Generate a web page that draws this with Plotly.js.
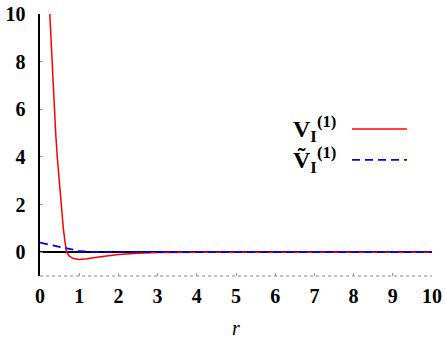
<!DOCTYPE html>
<html>
<head>
<meta charset="utf-8">
<script src="https://cdn.plot.ly/plotly-3.0.1.min.js"></script>
<style>
  html, body { margin: 0; padding: 0; background: #fff; }
  #chart { width: 445px; height: 342px; }
</style>
</head>
<body>
<div id="chart"></div>
<script>
// values
const rRed = [0.25, 0.28, 0.31, 0.34, 0.365, 0.4, 0.44, 0.49, 0.535, 0.595, 0.64, 0.68, 0.75, 0.85, 1.0, 1.2, 1.5, 2.0, 2.5, 3.0, 4.0, 10.0]
const vRed = [10, 8.9, 8.0, 6.9, 6.0, 5.0, 4.0, 3.0, 2.0, 1.0, 0.4, 0.0, -0.17, -0.27, -0.31, -0.28, -0.2, -0.1, -0.04, -0.01, 0, 0]

const rBlue = [0, 0.3, 0.66, 1.0, 1.3, 1.6, 2.0, 10.0]
const vBlue = [0.4, 0.29, 0.15, 0.05, 0.01, 0.002, 0, 0]

const xTicks = [0, 1, 2, 3, 4, 5, 6, 7, 8, 9, 10]
const yTicks = [0, 2, 4, 6, 8, 10]

const labelRed = "<b>V<sub>I</sub><sup>(1)</sup></b>"
const labelBlue = "<b>Ṽ<sub>I</sub><sup>(1)</sup></b>"
const xTitle = "<i>r</i>"

const serif = "Times New Roman"
const tickFont = { family: serif, size: 20, weight: 700, color: "#000" }

const traces = [
  {
    x: rRed, y: vRed, mode: "lines", name: labelRed,
    line: { color: "#ff0000", width: 1.5 },
  },
  {
    x: rBlue, y: vBlue, mode: "lines", name: labelBlue,
    line: { color: "#0000ff", width: 1.8, dash: "8px,5px" },
  },
]

const layout = {
  width: 445,
  height: 342,
  margin: { l: 40, r: 13, t: 14, b: 66 },
  paper_bgcolor: "#fff",
  plot_bgcolor: "#fff",
  showlegend: false,
  font: { family: serif, color: "#000" },
  xaxis: {
    range: [0, 10],
    tickvals: xTicks,
    ticktext: xTicks.map((t) => "<b>" + t + "</b>"),
    ticks: "inside", ticklen: 3, tickcolor: "#999", tickwidth: 1,
    tickfont: tickFont,
    ticklabelstandoff: 6,
    showgrid: false, zeroline: false, showline: false,
    title: { text: xTitle, font: { family: serif, size: 20, color: "#000" }, standoff: 14 },
  },
  yaxis: {
    range: [-1, 10],
    tickvals: yTicks,
    ticktext: yTicks.map((t) => "<b>" + t + "</b>"),
    ticks: "inside", ticklen: 3, tickcolor: "#999", tickwidth: 1,
    tickfont: tickFont,
    ticklabelstandoff: 8,
    showgrid: false,
    showline: true, linecolor: "#000", linewidth: 2.5,
    zeroline: true, zerolinecolor: "#000", zerolinewidth: 2.5,
  },
  shapes: [
    // dotted bottom frame line
    { type: "line", xref: "paper", yref: "paper", x0: 0, x1: 1, y0: 0, y1: 0,
      line: { color: "#888", width: 1, dash: "dot" } },
    // legend samples
    { type: "line", xref: "paper", yref: "paper", x0: 0.796, x1: 0.936, y0: 0.561, y1: 0.561,
      line: { color: "#ff0000", width: 1.5 } },
    { type: "line", xref: "paper", yref: "paper", x0: 0.796, x1: 0.936, y0: 0.443, y1: 0.443,
      line: { color: "#0000ff", width: 1.8, dash: "8px,5px" } },
  ],
  annotations: [
    { xref: "paper", yref: "paper", x: 0.76, y: 0.561, xanchor: "right", yanchor: "middle",
      text: labelRed, showarrow: false, font: { family: serif, size: 24, color: "#000" } },
    { xref: "paper", yref: "paper", x: 0.76, y: 0.443, xanchor: "right", yanchor: "middle",
      text: labelBlue, showarrow: false, font: { family: serif, size: 24, color: "#000" } },
  ],
}

Plotly.newPlot("chart", traces, layout, { displayModeBar: false, staticPlot: true })
</script>
</body>
</html>
